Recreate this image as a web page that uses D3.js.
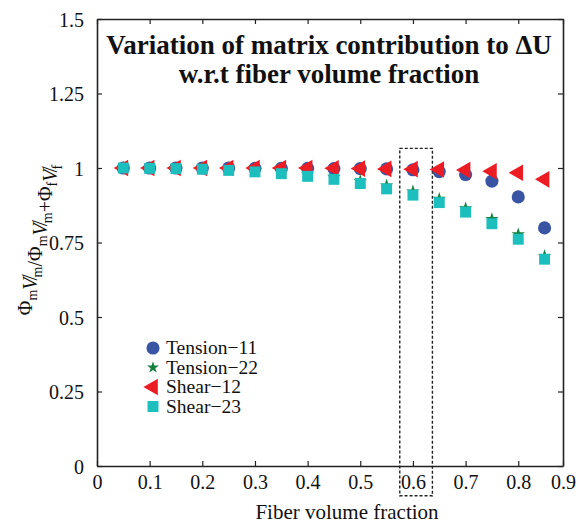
<!DOCTYPE html>
<html>
<head>
<meta charset="utf-8">
<script src="https://cdn.jsdelivr.net/npm/d3@7"></script>
<style>
  body { margin: 0; background: #fff; }
  text { font-family: "Liberation Serif", "DejaVu Serif", serif; }
</style>
</head>
<body>
<div id="root"></div>
<script>
// fiber volume fractions
var vf = [0.05, 0.10, 0.15, 0.20, 0.25, 0.30, 0.35, 0.40, 0.45, 0.50, 0.55, 0.60, 0.65, 0.70, 0.75, 0.80, 0.85];

// matrix contribution ratio, one list per load case
var tension11 = [1.0, 1.0, 1.0, 1.0, 1.0, 0.999, 0.999, 0.999, 0.998, 0.998, 0.997, 0.994, 0.988, 0.978, 0.956, 0.903, 0.799];
var tension22 = [1.0, 0.999, 0.998, 0.997, 0.995, 0.991, 0.986, 0.978, 0.968, 0.956, 0.941, 0.921, 0.896, 0.864, 0.828, 0.777, 0.704];
var shear12 = [1.0, 1.0, 1.0, 1.0, 1.0, 1.0, 1.0, 1.0, 0.999, 0.998, 0.997, 0.996, 0.995, 0.993, 0.989, 0.984, 0.962];
var shear23 = [1.0, 0.999, 0.998, 0.996, 0.992, 0.987, 0.981, 0.972, 0.962, 0.948, 0.930, 0.909, 0.884, 0.852, 0.813, 0.761, 0.694];

var seriesNames = ["Tension\u221211", "Tension\u221222", "Shear\u221212", "Shear\u221223"];
var xTicks = [0, 0.1, 0.2, 0.3, 0.4, 0.5, 0.6, 0.7, 0.8, 0.885];
var yTicks = [0, 0.25, 0.5, 0.75, 1, 1.25, 1.5];

// highlighted band around vf = 0.6 (data units)
var boxX = [0.575, 0.637];
var boxY = [-0.1, 1.066];

var W = 578, H = 524;
var svg = d3.select("#root").append("svg")
    .attr("width", W)
    .attr("height", H);

var x = d3.scaleLinear().domain([0, 0.885]).range([97, 563]);
var y = d3.scaleLinear().domain([0, 1.5]).range([466, 19]);

var fmtX = function (d) { return d === 0 ? "0" : d3.format(".1f")(d); };
var fmtY = function (d) { return String(d); };

// axes, ticks inward
var bottom = svg.append("g")
    .attr("transform", "translate(0," + y(0) + ")")
    .call(d3.axisBottom(x).tickValues(xTicks).tickFormat(fmtX).tickSizeInner(-5).tickSizeOuter(0).tickPadding(9));
var top_ = svg.append("g")
    .attr("transform", "translate(0," + y(1.5) + ")")
    .call(d3.axisTop(x).tickValues(xTicks).tickFormat("").tickSizeInner(-5).tickSizeOuter(0));
var left = svg.append("g")
    .attr("transform", "translate(" + x(0) + ",0)")
    .call(d3.axisLeft(y).tickValues(yTicks).tickFormat(fmtY).tickSizeInner(-5).tickSizeOuter(0).tickPadding(13));
var right = svg.append("g")
    .attr("transform", "translate(" + x(0.885) + ",0)")
    .call(d3.axisRight(y).tickValues(yTicks).tickFormat("").tickSizeInner(-5).tickSizeOuter(0));

[bottom, top_, left, right].forEach(function (g) {
    g.select(".domain").attr("stroke", "#222").attr("stroke-width", 1.6);
    g.selectAll(".tick line").attr("stroke", "#222").attr("stroke-width", 1.2);
    g.selectAll(".tick text").attr("fill", "#111").style("font-size", "20px")
        .style("font-family", "'Liberation Serif', serif");
});
left.selectAll(".tick text").attr("dy", "0.35em");

// dashed highlight box
svg.append("rect")
    .attr("x", x(boxX[0]))
    .attr("y", y(boxY[1]))
    .attr("width", x(boxX[1]) - x(boxX[0]))
    .attr("height", y(boxY[0]) - y(boxY[1]))
    .attr("fill", "none")
    .attr("stroke", "#222")
    .attr("stroke-width", 1.4)
    .attr("stroke-dasharray", "3,2");

// marker styles
var styles = [
    { data: tension11, color: "#3a54a4", sym: d3.symbolCircle, size: 135, rot: 0 },
    { data: tension22, color: "#12803f", sym: d3.symbolStar, size: 55, rot: 0 },
    { data: shear12, color: "#ec1c24", sym: d3.symbolTriangle, size: 120, rot: -90 },
    { data: shear23, color: "#1cbfbe", sym: d3.symbolSquare, size: 120, rot: 0 }
];

styles.forEach(function (s) {
    svg.append("g").selectAll("path")
        .data(s.data)
        .join("path")
        .attr("d", d3.symbol().type(s.sym).size(s.size))
        .attr("transform", function (d, i) {
            return "translate(" + x(vf[i]) + "," + y(d) + ") rotate(" + s.rot + ")";
        })
        .attr("fill", s.color);
});

// legend
var legend = svg.append("g");
styles.forEach(function (s, i) {
    var ly = 348 + i * 19.5;
    legend.append("path")
        .attr("d", d3.symbol().type(s.sym).size(i === 1 ? 45 : s.size))
        .attr("transform", "translate(153," + ly + ") rotate(" + s.rot + ")")
        .attr("fill", s.color);
    legend.append("text")
        .attr("x", 166)
        .attr("y", ly)
        .attr("dy", "0.33em")
        .style("font-size", "19.5px")
        .attr("fill", "#111")
        .text(seriesNames[i]);
});

// title
var title = svg.append("text")
    .attr("text-anchor", "middle")
    .style("font-size", "27px")
    .style("font-weight", "bold")
    .attr("fill", "#111");
title.append("tspan").attr("x", 329).attr("y", 54).text("Variation of matrix contribution to \u0394U");
title.append("tspan").attr("x", 329).attr("y", 83).text("w.r.t fiber volume fraction");

// x label
svg.append("text")
    .attr("x", 347)
    .attr("y", 519)
    .attr("text-anchor", "middle")
    .style("font-size", "21px")
    .attr("fill", "#111")
    .text("Fiber volume fraction");

// y label with subscripts
var yl = svg.append("text")
    .attr("transform", "translate(32,240) rotate(-90)")
    .attr("text-anchor", "middle")
    .style("font-size", "20px")
    .attr("fill", "#111");
var parts = [["\u03A6", "m"], ["V\u0338", "m"], ["/\u03A6", "m"], ["V\u0338", "m"], ["+\u03A6", "f"], ["V\u0338", "f"]];
parts.forEach(function (p) {
    var t = yl.append("tspan").text(p[0]);
    if (p[0].indexOf("V") >= 0) t.style("font-style", "italic");
    yl.append("tspan").attr("dy", 5).style("font-size", "14px").text(p[1]);
    yl.append("tspan").attr("dy", -5).text("");
});
</script>
</body>
</html>
